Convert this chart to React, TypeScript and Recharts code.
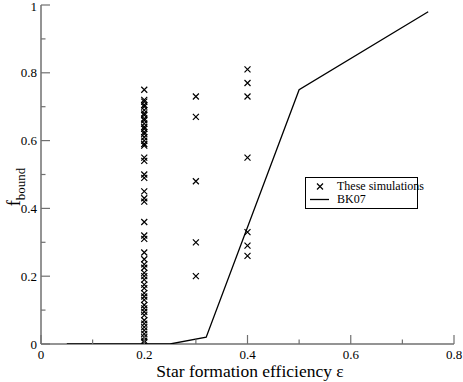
import React from 'react';
import { ScatterChart, Scatter, XAxis, YAxis, Legend } from 'recharts';

const sim02 = [
  0.75, 0.72, 0.715, 0.705, 0.7, 0.69, 0.68, 0.675, 0.665, 0.66, 0.65, 0.64, 0.635, 0.625,
  0.62, 0.61, 0.6, 0.59, 0.585, 0.55, 0.54, 0.5, 0.49, 0.45, 0.43, 0.42, 0.36, 0.32, 0.31,
  0.27, 0.25, 0.235, 0.225, 0.21, 0.2, 0.19, 0.175, 0.165, 0.15, 0.14, 0.13, 0.115, 0.105,
  0.095, 0.085, 0.07, 0.06, 0.05, 0.04, 0.03, 0.02, 0.01, 0.005,
];
const sim03 = [0.73, 0.67, 0.48, 0.3, 0.2];
const sim04 = [0.81, 0.77, 0.73, 0.55, 0.33, 0.29, 0.26];
const bk07X = [0.05, 0.25, 0.32, 0.5, 0.75];
const bk07Y = [0, 0, 0.02, 0.75, 0.98];
const xTicks = [0, 0.1, 0.2, 0.3, 0.4, 0.5, 0.6, 0.7, 0.8];
const yTicks = [0, 0.1, 0.2, 0.3, 0.4, 0.5, 0.6, 0.7, 0.8, 0.9, 1];
const legendOrder = ['These simulations', 'BK07'];

const simulations = [
  ...sim02.map((y) => ({ x: 0.2, y })),
  ...sim03.map((y) => ({ x: 0.3, y })),
  ...sim04.map((y) => ({ x: 0.4, y })),
];
const bk07 = bk07X.map((x, i) => ({ x, y: bk07Y[i] }));

const FONT = "'Liberation Serif', 'Times New Roman', Times, 'Nimbus Roman', 'Nimbus Roman No9 L', 'DejaVu Serif', serif";
const AXIS_GRAY = '#707070';

const isMajor = (v: number) => Math.round(v * 10) % 2 === 0;

const Cross = (props: any) => {
  const { cx, cy } = props;
  if (cx == null || cy == null) return <g />;
  const r = 3;
  return (
    <path
      d={`M${cx - r},${cy - r}L${cx + r},${cy + r}M${cx - r},${cy + r}L${cx + r},${cy - r}`}
      stroke="#000"
      strokeWidth={1.2}
      fill="none"
    />
  );
};

const BottomTick = (props: any) => {
  const { x, y, payload } = props;
  const v = payload.value;
  const major = isMajor(v);
  return (
    <g>
      <line x1={x} x2={x} y1={y} y2={y - (major ? 9 : 4.5)} stroke={AXIS_GRAY} strokeWidth={1.2} />
      {major && (
        <text x={x} y={y + 15} textAnchor="middle" fontSize={13} style={{ fontFamily: FONT }} fill="#000">
          {String(v)}
        </text>
      )}
    </g>
  );
};

const TopTick = (props: any) => {
  const { x, y, payload } = props;
  const major = isMajor(payload.value);
  return <line x1={x} x2={x} y1={y} y2={y + (major ? 10 : 5)} stroke="#000" strokeWidth={1} />;
};

const LeftTick = (props: any) => {
  const { x, y, payload } = props;
  const v = payload.value;
  const major = isMajor(v);
  return (
    <g>
      <line x1={x} x2={x + (major ? 9 : 4.5)} y1={y} y2={y} stroke={AXIS_GRAY} strokeWidth={1.2} />
      {major && (
        <text x={x - 4} y={Math.max(y + 4.5, 11)} textAnchor="end" fontSize={13} style={{ fontFamily: FONT }} fill="#000">
          {String(v)}
        </text>
      )}
    </g>
  );
};

const RightTick = (props: any) => {
  const { x, y, payload } = props;
  const major = isMajor(payload.value);
  return <line x1={x} x2={x - (major ? 10 : 5)} y1={y} y2={y} stroke="#000" strokeWidth={1} />;
};

const YLabel = () => (
  <text x={20} y={187} transform="rotate(-90 20 187)" textAnchor="middle" style={{ fontFamily: FONT }} fill="#000">
    <tspan fontSize={18}>f</tspan>
    <tspan fontSize={13} dy={5}>bound</tspan>
  </text>
);

const XLabel = () => (
  <text x={250} y={377} textAnchor="middle" style={{ fontFamily: FONT }} fontSize={17.5} fill="#000">
    Star formation efficiency ε
  </text>
);

const LegendBox = (props: any) => {
  const payload = [...(props.payload || [])].sort(
    (a: any, b: any) => legendOrder.indexOf(a.value) - legendOrder.indexOf(b.value)
  );
  return (
    <div
      style={{
        border: '1px solid #000',
        background: '#fff',
        padding: '2px 0 2px 2px',
        fontFamily: FONT,
        fontSize: 12,
        lineHeight: '13px',
        boxSizing: 'border-box',
        whiteSpace: 'nowrap',
        color: '#000',
      }}
    >
      {payload.map((entry: any) => (
        <div key={entry.value} style={{ display: 'flex', alignItems: 'center' }}>
          <svg width={24} height={13} style={{ flex: 'none' }}>
            {entry.value === 'BK07' ? (
              <line x1={2} x2={21} y1={6.5} y2={6.5} stroke="#000" strokeWidth={1.3} />
            ) : (
              <path d="M9,3.5L15,9.5M9,9.5L15,3.5" stroke="#000" strokeWidth={1.2} />
            )}
          </svg>
          <span style={{ marginLeft: 5 }}>{entry.value}</span>
        </div>
      ))}
    </div>
  );
};

export default function App() {
  return (
    <div style={{ position: 'absolute', left: 0, top: 0, width: 463, height: 382, background: '#fff' }}>
      <ScatterChart width={463} height={382} margin={{ top: 5, right: 9, bottom: 0, left: 0 }}>
        <XAxis
          type="number"
          dataKey="x"
          domain={[0, 0.8]}
          ticks={xTicks}
          interval={0}
          height={38}
          tickSize={0}
          tickMargin={0}
          tickLine={false}
          axisLine={{ stroke: AXIS_GRAY, strokeWidth: 1.5 }}
          tick={<BottomTick />}
          allowDataOverflow
          label={<XLabel />}
        />
        <XAxis
          xAxisId="top"
          type="number"
          orientation="top"
          domain={[0, 0.8]}
          ticks={xTicks}
          interval={0}
          height={0}
          tickSize={0}
          tickMargin={0}
          tickLine={false}
          axisLine={{ stroke: '#000', strokeWidth: 1 }}
          tick={<TopTick />}
          allowDataOverflow
        />
        <YAxis
          type="number"
          dataKey="y"
          domain={[0, 1]}
          ticks={yTicks}
          interval={0}
          width={41}
          tickSize={0}
          tickMargin={0}
          tickLine={false}
          axisLine={{ stroke: AXIS_GRAY, strokeWidth: 1.5 }}
          tick={<LeftTick />}
          allowDataOverflow
          label={<YLabel />}
        />
        <YAxis
          yAxisId="right"
          type="number"
          orientation="right"
          domain={[0, 1]}
          ticks={yTicks}
          interval={0}
          width={0}
          tickSize={0}
          tickMargin={0}
          tickLine={false}
          axisLine={{ stroke: '#000', strokeWidth: 1 }}
          tick={<RightTick />}
          allowDataOverflow
        />
        <Legend
          layout="horizontal"
          verticalAlign="middle"
          align="center"
          content={<LegendBox />}
          wrapperStyle={{ position: 'absolute', left: 305, top: 177, width: 113 }}
        />
        <Scatter
          name="These simulations"
          data={simulations}
          shape={<Cross />}
          isAnimationActive={false}
        />
        <Scatter
          name="BK07"
          data={bk07}
          line={{ stroke: '#000', strokeWidth: 1.3 }}
          lineType="joint"
          shape={() => <g />}
          legendType="line"
          isAnimationActive={false}
        />
      </ScatterChart>
    </div>
  );
}
